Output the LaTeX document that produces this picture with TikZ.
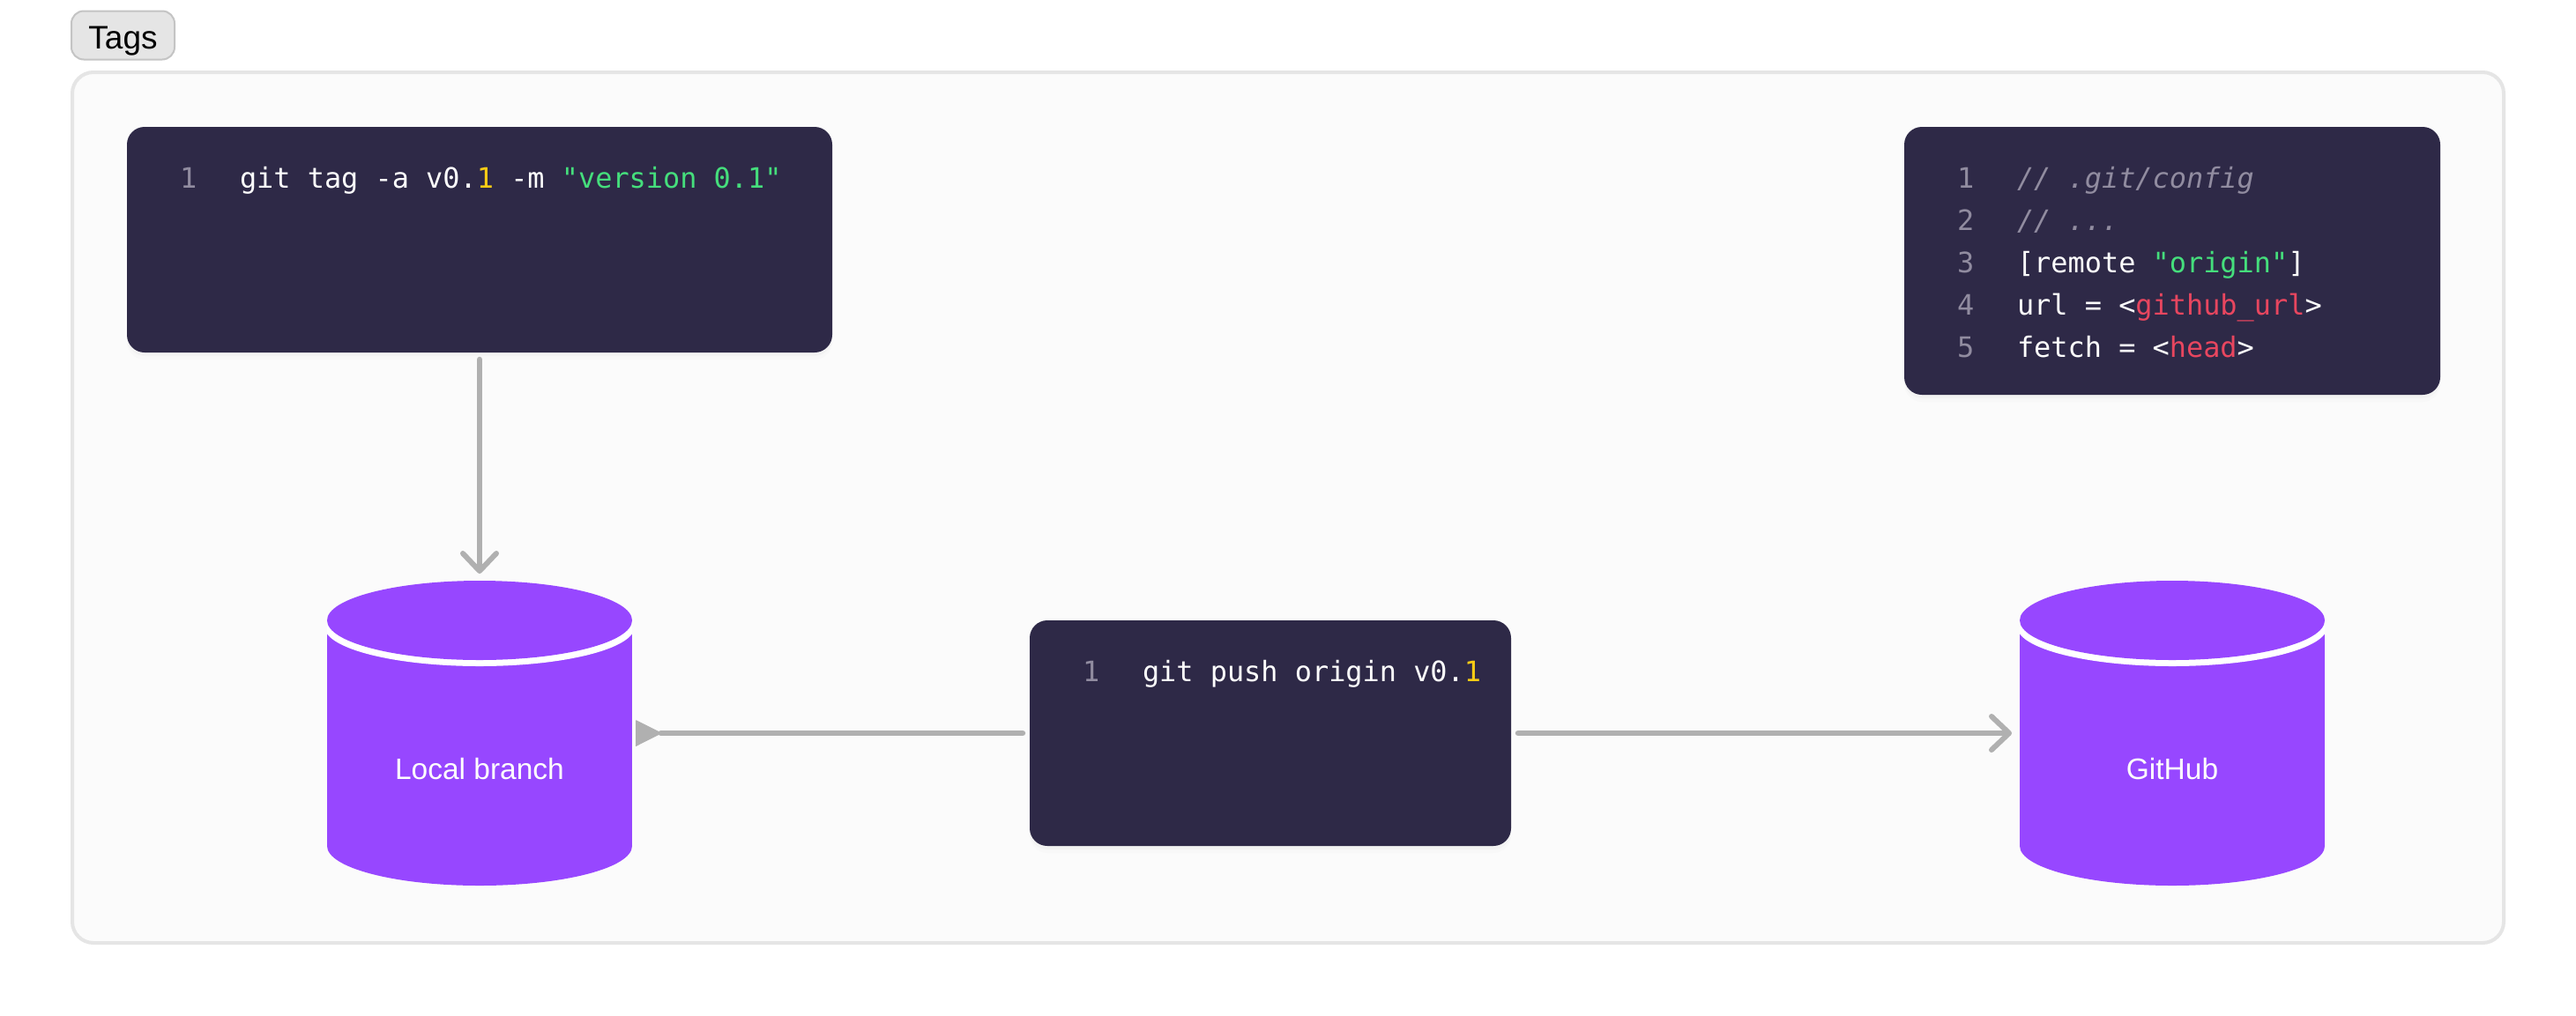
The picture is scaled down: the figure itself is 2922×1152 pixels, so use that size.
\documentclass[tikz,border=0pt]{standalone}
\usepackage{fontspec}
\setmainfont{Liberation Sans}
\newfontfamily\codefont{DejaVu Sans Mono}
\usetikzlibrary{arrows.meta,shadows}
\definecolor{panelfill}{HTML}{FBFBFB}
\definecolor{panelline}{HTML}{E5E5E5}
\definecolor{tagline}{HTML}{C4C4C4}
\definecolor{codebg}{HTML}{2E2947}
\definecolor{codenum}{HTML}{918CA0}
\definecolor{codegreen}{HTML}{45DE7C}
\definecolor{codeyellow}{HTML}{FACC15}
\definecolor{codered}{HTML}{E8465F}
\definecolor{codetext}{HTML}{FDFDFD}
\definecolor{dbpurple}{HTML}{9747FF}
\definecolor{linkgrey}{HTML}{B0B0B0}
\newcommand\cgreen[1]{\textcolor{codegreen}{#1}}
\newcommand\cyellow[1]{\textcolor{codeyellow}{#1}}
\newcommand\cred[1]{\textcolor{codered}{#1}}
\newcommand\dbshape[1]{%
  \fill[dbpurple] (#1,960) ellipse[x radius=173,y radius=45];
  \fill[dbpurple] (#1-173,717) rectangle (#1+173,960);
  \begin{scope}
    \clip (#1-173,690) rectangle (#1+173,770);
    \fill[white] (#1,711) ellipse[x radius=176,y radius=45];
  \end{scope}
  \fill[dbpurple] (#1,704) ellipse[x radius=173,y radius=45];
}
\tikzset{
  panel/.style={draw=panelline,fill=panelfill,line width=4pt,rounded corners=24pt,inner sep=0pt,outer sep=0pt},
  tagbox/.style={draw=tagline,fill=panelline,line width=2pt,rounded corners=14pt,inner sep=0pt,outer sep=0pt,
    font=\fontsize{37}{42}\selectfont,text=black,text height=30pt,text depth=0pt,minimum width=117pt,minimum height=55pt},
  codebox/.style={fill=codebg,rounded corners=20pt,inner sep=0pt,outer sep=0pt,
    drop shadow={opacity=.025,shadow xshift=0pt,shadow yshift=-8pt},
    drop shadow={opacity=.035,shadow xshift=0pt,shadow yshift=-4pt}},
  codeline/.style={anchor=base west,inner sep=0pt,outer sep=0pt,text=codetext,
    font=\codefont\fontsize{31.9}{40}\selectfont},
  codeno/.style={codeline,text=codenum},
  codenote/.style={codeline,text=codenum,font=\codefont\itshape\fontsize{31.9}{40}\selectfont},
  dbnode/.style={inner sep=0pt,outer sep=0pt,minimum width=346pt,minimum height=346pt},
  dblabel/.style={anchor=base,inner sep=0pt,outer sep=0pt,text=codetext,font=\fontsize{33.5}{40}\selectfont},
  link/.style={draw=linkgrey,line width=6.5pt,line cap=round},
  openhead/.style={-{Straight Barb[length=20pt,width=38pt,line width=6pt,round]}},
  solidhead/.style={-{Triangle[reversed,length=30pt,width=30pt,round,line width=1pt]}},
}
\begin{document}
\begin{tikzpicture}[x=1pt,y=-1pt]
\useasboundingbox (0,0) rectangle (2922,1152);
\fill[white] (0,0) rectangle (2922,1152);

\node[tagbox] (tags) at (139.5,40) {Tags};
\node[panel,minimum width=2758pt,minimum height=988pt] (frame) at (1461,576) {};

\node[codebox,minimum width=800pt,minimum height=256pt] (tagcode) at (544,272) {};
\node[codebox,minimum width=608pt,minimum height=304pt] (config) at (2464,296) {};
\node[codebox,minimum width=546pt,minimum height=256pt] (pushcode) at (1441,832) {};

\node[codeno] (n1) at (204,213) {1};
\node[codeline] (l1) at (272,213) {git tag -a v0.\cyellow{1} -m \cgreen{"version 0.1"}};

\node[codeno] (c1) at (2220,213) {1};
\node[codenote] (t1) at (2288,213) {// .git/config};
\node[codeno] (c2) at (2220,261) {2};
\node[codenote] (t2) at (2288,261) {// ...};
\node[codeno] (c3) at (2220,309) {3};
\node[codeline] (t3) at (2288,309) {[remote \cgreen{"origin"}]};
\node[codeno] (c4) at (2220,357) {4};
\node[codeline] (t4) at (2288,357) {url = <\cred{github\_url}>};
\node[codeno] (c5) at (2220,405) {5};
\node[codeline] (t5) at (2288,405) {fetch = <\cred{head}>};

\node[codeno] (p1) at (1228,773) {1};
\node[codeline] (p2) at (1296,773) {git push origin v0.\cyellow{1}};

\dbshape{544}
\dbshape{2464}
\node[dbnode] (localdb) at (544,832) {};
\node[dbnode] (github) at (2464,832) {};
\node[dblabel] (locallabel) at (544,884) {Local branch};
\node[dblabel] (githublabel) at (2464,884) {GitHub};

\draw[link,openhead,shorten <=8pt,shorten >=8pt] (tagcode.south) -- (localdb.north);
\draw[link,solidhead,shorten <=8pt,shorten >=4pt] (pushcode.west) -- (localdb.east);
\draw[link,openhead,shorten <=8pt,shorten >=9pt] (pushcode.east) -- (github.west);
\end{tikzpicture}
\end{document}
